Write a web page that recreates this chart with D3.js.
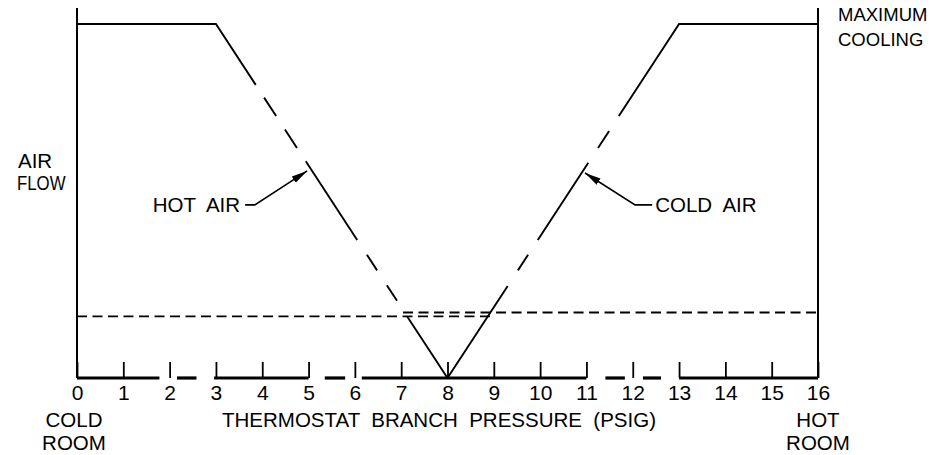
<!DOCTYPE html>
<html>
<head>
<meta charset="utf-8">
<script src="https://cdn.jsdelivr.net/npm/d3@7"></script>
<style>
  body { margin: 0; background: #fff; }
  svg { display: block; }
  text { font-family: "Liberation Sans", Arial, sans-serif; fill: #000; white-space: pre; }
</style>
</head>
<body>
<svg id="chart"></svg>
<script>
// pressure (psig) on x, air flow (% of maximum) on y
const pressureTicks = [0, 1, 2, 3, 4, 5, 6, 7, 8, 9, 10, 11, 12, 13, 14, 15, 16];

// hot air damper line, visible pieces (solid runs and dashes)
const hotAirPieces = [
    [[0, 100], [3, 100], [3.86, 82.8]],
    [[4.04, 79.2], [4.30, 74.0]],
    [[4.49, 70.2], [4.75, 65.0]],
    [[4.94, 61.2], [6.05, 39.0]],
    [[6.26, 34.8], [6.48, 30.4]],
    [[6.69, 26.2], [6.91, 21.8]],
    [[7.13, 17.4], [8, 0]]
];

// cold air damper line
const coldAirPieces = [
    [[8, 0], [9.30, 26.0]],
    [[9.52, 30.4], [9.74, 34.8]],
    [[9.95, 39.0], [11.04, 60.8]],
    [[11.25, 65.0], [11.49, 69.8]],
    [[11.70, 74.0], [13, 100], [16, 100]]
];

// minimum air flow (dashed)
const hotMinimum = [[0, 17.4], [8.92, 17.4]];
const coldMinimum = [[7.04, 18.5], [16, 18.5]];

// pieces of the heavy base line
const baseSegments = [[0, 1.78], [2.16, 2.58], [2.96, 5.0], [5.35, 5.79], [6.15, 11.0], [11.41, 11.83], [12.22, 12.61], [13, 16]];

// label leaders: [label end, elbow, arrow tip]
const hotLeader = [[3.63, 48.9], [3.84, 48.9], [4.97, 58.5]];
const coldLeader = [[12.42, 48.9], [12.05, 48.9], [10.97, 57.9]];

document.addEventListener("DOMContentLoaded", function () {
    drawChart();
});

function drawChart() {
    let svgWidth = 938, svgHeight = 455;

    let svg = d3.select("#chart")
        .attr("width", svgWidth)
        .attr("height", svgHeight);

    let x = d3.scaleLinear().domain([0, 16]).range([77, 818]);
    let y = d3.scaleLinear().domain([0, 100]).range([378, 24]);
    let yTop = 8;

    let line = d3.line()
        .x(function (d) { return x(d[0]); })
        .y(function (d) { return y(d[1]); });

    svg.append("defs").append("marker")
        .attr("id", "arrow")
        .attr("markerUnits", "userSpaceOnUse")
        .attr("markerWidth", 18)
        .attr("markerHeight", 10)
        .attr("viewBox", "0 -5 18 10")
        .attr("refX", 16)
        .attr("refY", 0)
        .attr("orient", "auto")
        .append("path")
        .attr("d", "M0,-3.6L16,0L0,3.6Z")
        .attr("fill", "#000");

    // vertical side lines
    [0, 16].forEach(function (p) {
        svg.append("line")
            .attr("x1", x(p)).attr("x2", x(p))
            .attr("y1", yTop).attr("y2", y(0))
            .attr("stroke", "#000")
            .attr("stroke-width", 2);
    });

    // axis with upward ticks
    let axis = svg.append("g")
        .attr("transform", "translate(0," + y(0) + ")")
        .call(d3.axisBottom(x).tickValues(pressureTicks).tickSize(-16).tickPadding(7).tickFormat(d3.format("d")));
    axis.select(".domain").remove();
    axis.selectAll(".tick line").attr("stroke", "#000").attr("stroke-width", 1.8);
    axis.selectAll(".tick text")
        .attr("font-size", 21)
        .attr("font-family", "Liberation Sans, Arial, sans-serif")
        .attr("fill", "#000");

    svg.selectAll(".base")
        .data(baseSegments)
        .enter().append("line")
        .attr("class", "base")
        .attr("x1", function (d) { return x(d[0]); })
        .attr("x2", function (d) { return x(d[1]); })
        .attr("y1", y(0)).attr("y2", y(0))
        .attr("stroke", "#000")
        .attr("stroke-width", 3.2);

    // damper lines
    svg.selectAll(".hot")
        .data(hotAirPieces)
        .enter().append("path")
        .attr("class", "hot")
        .attr("fill", "none")
        .attr("stroke", "#000")
        .attr("stroke-width", 1.9)
        .attr("d", line);

    svg.selectAll(".cold")
        .data(coldAirPieces)
        .enter().append("path")
        .attr("class", "cold")
        .attr("fill", "none")
        .attr("stroke", "#000")
        .attr("stroke-width", 1.9)
        .attr("d", line);

    [hotMinimum, coldMinimum].forEach(function (m) {
        svg.append("path")
            .datum(m)
            .attr("fill", "none")
            .attr("stroke", "#000")
            .attr("stroke-width", 1.9)
            .attr("stroke-dasharray", "10,5.5")
            .attr("d", line);
    });

    // leaders with arrows
    [hotLeader, coldLeader].forEach(function (l) {
        svg.append("path")
            .datum(l)
            .attr("fill", "none")
            .attr("stroke", "#000")
            .attr("stroke-width", 1.6)
            .attr("marker-end", "url(#arrow)")
            .attr("d", line);
    });

    svg.append("text")
        .attr("x", x(hotLeader[0][0]) - 5)
        .attr("y", y(hotLeader[0][1]) + 7)
        .attr("text-anchor", "end")
        .attr("font-size", 20.5)
        .text("HOT  AIR");

    svg.append("text")
        .attr("x", x(coldLeader[0][0]) + 3)
        .attr("y", y(coldLeader[0][1]) + 7)
        .attr("font-size", 20.5)
        .text("COLD  AIR");

    // side labels (k = horizontal squeeze)
    let labels = [
        { t: "AIR", x: 18, y: 168, a: "start", s: 20.5, k: 1 },
        { t: "FLOW", x: 17, y: 190, a: "start", s: 20.5, k: 0.82 },
        { t: "MAXIMUM", x: 838, y: 21, a: "start", s: 18.5, k: 1 },
        { t: "COOLING", x: 838, y: 46, a: "start", s: 18.5, k: 1 },
        { t: "COLD", x: x(0) - 3, y: 427, a: "middle", s: 20.5, k: 1 },
        { t: "ROOM", x: x(0) - 3, y: 450, a: "middle", s: 20.5, k: 1 },
        { t: "HOT", x: x(16), y: 427, a: "middle", s: 20.5, k: 1 },
        { t: "ROOM", x: x(16), y: 450, a: "middle", s: 20.5, k: 1 },
        { t: "THERMOSTAT  BRANCH  PRESSURE  (PSIG)", x: 439, y: 427, a: "middle", s: 20.5, k: 1 }
    ];
    svg.selectAll(".lbl")
        .data(labels)
        .enter().append("text")
        .attr("class", "lbl")
        .attr("transform", function (d) { return "translate(" + d.x + "," + d.y + ") scale(" + d.k + ",1)"; })
        .attr("text-anchor", function (d) { return d.a; })
        .attr("font-size", function (d) { return d.s; })
        .text(function (d) { return d.t; });
}
</script>
</body>
</html>
